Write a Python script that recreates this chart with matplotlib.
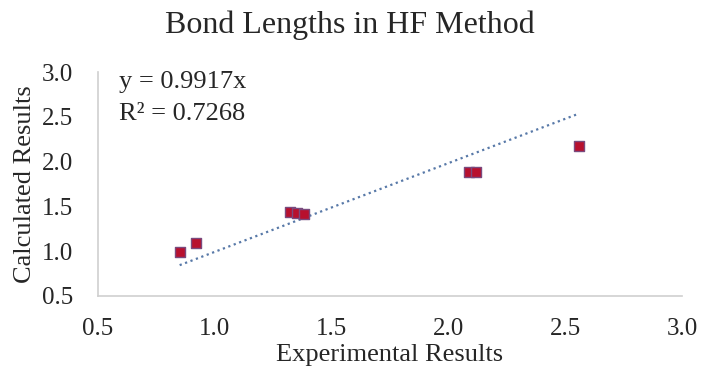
import matplotlib.pyplot as plt
import numpy as np

# values
experimental = [0.85, 0.92, 1.32, 1.35, 1.38, 2.09, 2.12, 2.56]
calculated = [0.99, 1.09, 1.44, 1.43, 1.41, 1.88, 1.88, 2.17]
slope = 0.9917
r_squared = 0.7268
ticks = [0.5, 1.0, 1.5, 2.0, 2.5, 3.0]

plt.rcParams['font.family'] = ['Liberation Serif', 'DejaVu Serif']

fig = plt.figure(figsize=(7.04, 3.74), dpi=100)
ax = fig.add_axes([0.139, 0.209, 0.830, 0.598])

# trendline through origin, as given in the label
xs = np.array([min(experimental), max(experimental)])
ax.plot(xs, slope * xs, linestyle=(0, (1, 1.6)), color='#5879A8', linewidth=1.6, zorder=2)

ax.scatter(experimental, calculated, marker='s', s=50, color='#B8102E',
           edgecolors='#7A4A7E', linewidths=1.0, zorder=3)

ax.set_xlim(0.5, 3.0)
ax.set_ylim(0.5, 3.0)
ax.set_xticks(ticks)
ax.set_yticks(ticks)
ax.set_xticklabels([f'{t:.1f}' for t in ticks])
ax.set_yticklabels([f'{t:.1f}' for t in ticks])
ax.tick_params(length=0, labelsize=18, colors='#262626')
ax.tick_params(axis='x', pad=16)
ax.tick_params(axis='y', pad=18)

for side in ['top', 'right']:
    ax.spines[side].set_visible(False)
for side in ['left', 'bottom']:
    ax.spines[side].set_color('#CFCFCF')
    ax.spines[side].set_linewidth(1.2)

fig.text(0.497, 0.933, 'Bond Lengths in HF Method', fontsize=23, color='#262626',
         ha='center', va='center')
ax.set_xlabel('Experimental Results', fontsize=19, color='#262626', labelpad=3)
ax.set_ylabel('Calculated Results', fontsize=19, color='#262626', labelpad=4)

ax.text(0.036, 0.955, f'y = {slope}x', transform=ax.transAxes, fontsize=19,
        color='#262626', va='center')
ax.text(0.036, 0.815, f'R² = {r_squared}', transform=ax.transAxes, fontsize=19,
        color='#262626', va='center')

fig.savefig('out.png', dpi=100)
